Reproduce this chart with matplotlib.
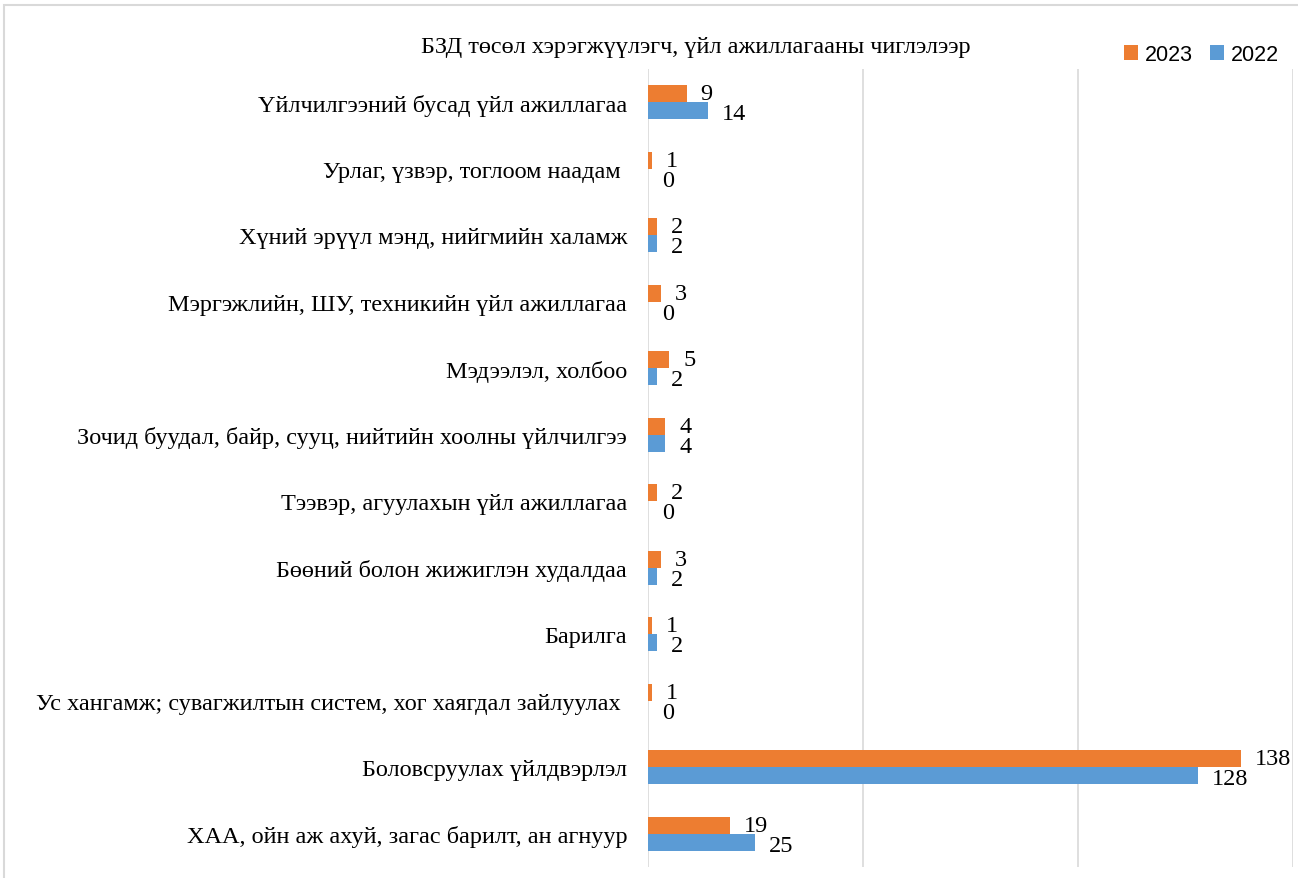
import matplotlib.pyplot as plt
import numpy as np
from matplotlib.patches import Rectangle

# Data (top to bottom as shown)
categories = [
    "Үйлчилгээний бусад үйл ажиллагаа",
    "Урлаг, үзвэр, тоглоом наадам ",
    "Хүний эрүүл мэнд, нийгмийн халамж",
    "Мэргэжлийн, ШУ, техникийн үйл ажиллагаа",
    "Мэдээлэл, холбоо",
    "Зочид буудал, байр, сууц, нийтийн хоолны үйлчилгээ",
    "Тээвэр, агуулахын үйл ажиллагаа",
    "Бөөний болон жижиглэн худалдаа",
    "Барилга",
    "Ус хангамж; сувагжилтын систем, хог хаягдал зайлуулах ",
    "Боловсруулах үйлдвэрлэл",
    "ХАА, ойн аж ахуй, загас барилт, ан агнуур",
]
values_2023 = [9, 1, 2, 3, 5, 4, 2, 3, 1, 1, 138, 19]
values_2022 = [14, 0, 2, 0, 2, 4, 0, 2, 2, 0, 128, 25]

orange = "#ED7D31"
blue = "#5B9BD5"
serif = "Liberation Serif"

n = len(categories)
y = np.arange(n)[::-1]
h = 0.256

fig = plt.figure(figsize=(12.98, 8.79), dpi=100)
ax = fig.add_axes([0.4992, 0.0125, 0.4969, 0.9079])

ax.barh(y + h / 2, values_2023, h, color=orange, label="2023", zorder=3)
ax.barh(y - h / 2, values_2022, h, color=blue, label="2022", zorder=3)

for yi, v in zip(y, values_2023):
    ax.annotate(str(v), (v, yi + h / 2), xytext=(10, 0), textcoords="offset points",
                ha="left", va="center", fontsize=17.5, family=serif)
for yi, v in zip(y, values_2022):
    ax.annotate(str(v), (v, yi - h / 2), xytext=(10, -2), textcoords="offset points",
                ha="left", va="center", fontsize=17.5, family=serif)

ax.set_xlim(0, 150)
ax.set_ylim(-0.5, n - 0.5)
ax.set_xticks([0, 50, 100, 150])
ax.set_xticklabels([])
ax.tick_params(axis="x", length=0)
ax.tick_params(axis="y", length=0, pad=15)
ax.set_yticks(y)
ax.set_yticklabels(categories, fontsize=17.5, family=serif)
ax.grid(axis="x", color="#D9D9D9", linewidth=1.2, zorder=0)
for s in ax.spines.values():
    s.set_visible(False)

fig.text(0.536, 0.946, "БЗД төсөл хэрэгжүүлэгч, үйл ажиллагааны чиглэлээр",
         ha="center", va="center", fontsize=17.5, family=serif)

ax.legend(loc="center right", bbox_to_anchor=(1.0, 0.937), bbox_transform=fig.transFigure,
          ncol=2, frameon=False, prop={"family": "Liberation Sans", "size": 15.5},
          handlelength=0.65, handleheight=0.65, handletextpad=0.3, columnspacing=0.8)

fig.patches.append(Rectangle((0.003, -0.02), 1.0, 1.013, transform=fig.transFigure,
                             fill=False, edgecolor="#D9D9D9", linewidth=1.5))

plt.savefig("out.png", dpi=100)
